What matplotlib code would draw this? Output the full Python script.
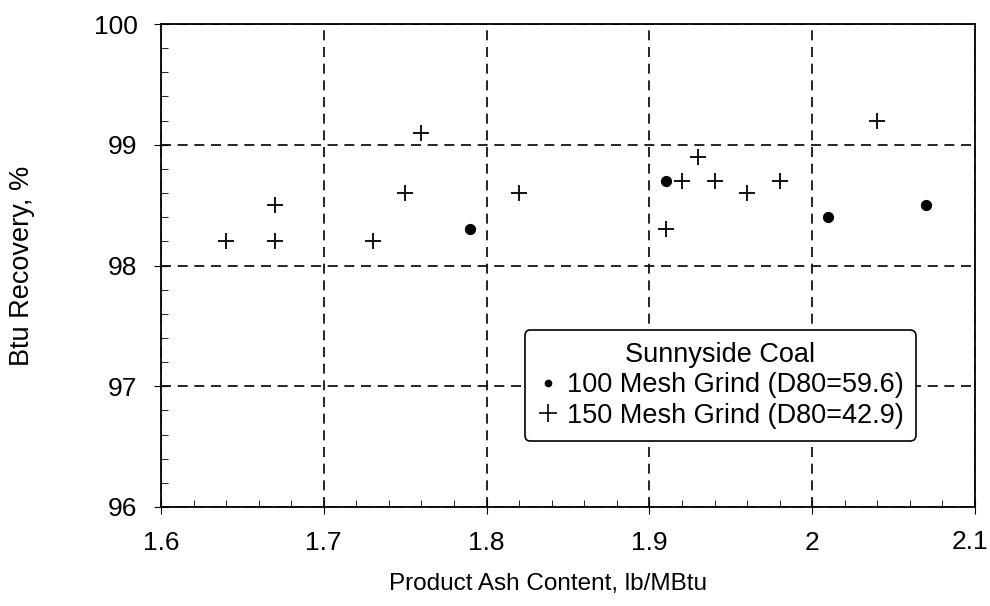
import numpy as np
import matplotlib
matplotlib.use("Agg")
import matplotlib.pyplot as plt
from matplotlib.ticker import MultipleLocator, FuncFormatter
from matplotlib.lines import Line2D

plt.rcParams['font.family'] = ['Liberation Sans', 'DejaVu Sans']

# 100 mesh grind (dots)
ash_100 = [1.79, 1.91, 2.01, 2.07]
rec_100 = [98.3, 98.7, 98.4, 98.5]

# 150 mesh grind (crosses)
ash_150 = [1.64, 1.67, 1.67, 1.73, 1.75, 1.76, 1.82,
           1.91, 1.92, 1.93, 1.94, 1.96, 1.98, 2.04]
rec_150 = [98.2, 98.5, 98.2, 98.2, 98.6, 99.1, 98.6,
           98.3, 98.7, 98.9, 98.7, 98.6, 98.7, 99.2]

label_100 = "100 Mesh Grind (D80=59.6)"
label_150 = "150 Mesh Grind (D80=42.9)"

x_max = 2.1

fig = plt.figure(figsize=(9.9, 6.06), dpi=100)
ax = fig.add_axes([161 / 990, 1 - 507 / 606, (975 - 161) / 990, (507 - 24) / 606])

ax.scatter(ash_100, rec_100, marker='o', s=50, color='black', zorder=3)
ax.scatter(ash_150, rec_150, marker='+', s=140, color='black', linewidths=1.3,
           zorder=3)

ax.set_xlim(1.6, x_max)
ax.set_ylim(96, 100)
ax.xaxis.set_major_locator(MultipleLocator(0.1))
ax.xaxis.set_minor_locator(MultipleLocator(0.02))
ax.yaxis.set_major_locator(MultipleLocator(1))
ax.yaxis.set_minor_locator(MultipleLocator(0.2))
# last label drawn separately, slightly pulled in so it stays on the image
ax.xaxis.set_major_formatter(
    FuncFormatter(lambda v, p: "" if abs(v - x_max) < 1e-6 else f"{v:g}"))
ax.annotate(f"{x_max:g}", xy=(x_max, 0), xycoords=('data', 'axes fraction'),
            xytext=(-4, -16.5), textcoords='offset points',
            ha='center', va='top', fontsize=19, annotation_clip=False)

ax.grid(True, which='major', color='black', linestyle=(0, (6, 4)), linewidth=1.2)
ax.tick_params(which='both', top=False, right=False, labelsize=19)
ax.tick_params(which='major', direction='inout', length=10, pad=12)
ax.tick_params(which='minor', direction='in', length=5)
for s in ax.spines.values():
    s.set_linewidth(1.3)

ax.set_xlabel("Product Ash Content, lb/MBtu", fontsize=17.5)
ax.set_ylabel("Btu Recovery, %", fontsize=19.5)
ax.xaxis.set_label_coords(0.475, -0.137)
ax.yaxis.set_label_coords(-0.155, 0.5)

handles = [
    Line2D([], [], marker='o', ms=4.5, ls='', color='black'),
    Line2D([], [], marker='+', ms=13, mew=1.2, ls='', color='black'),
]
leg = ax.legend(handles, [label_100, label_150], title="Sunnyside Coal",
                loc='upper left', bbox_to_anchor=(0.447, 0.366),
                fontsize=19.5, title_fontsize=19.5,
                frameon=True, fancybox=True, edgecolor='black',
                handletextpad=0.3, handlelength=0.8, borderpad=0.45,
                labelspacing=0.15, borderaxespad=0, framealpha=1)
leg.get_frame().set_linewidth(1.2)

fig.savefig("out.png", dpi=100)
